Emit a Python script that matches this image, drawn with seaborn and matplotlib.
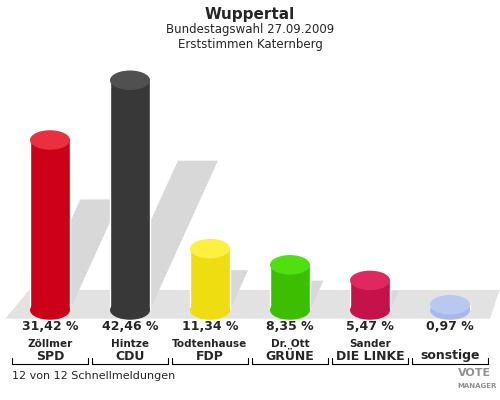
import matplotlib
matplotlib.use("Agg")
import matplotlib.pyplot as plt
import seaborn as sns
import pandas as pd
from matplotlib.patches import Ellipse, Polygon

parties = ["SPD", "CDU", "FDP", "GRÜNE", "DIE LINKE", "sonstige"]
names = ["Zöllmer", "Hintze", "Todtenhause", "Dr. Ott", "Sander", ""]
values = [31.42, 42.46, 11.34, 8.35, 5.47, 0.97]
labels = ["31,42 %", "42,46 %", "11,34 %", "8,35 %", "5,47 %", "0,97 %"]
colors = ["#cc0018", "#383838", "#eedd10", "#3cbf00", "#c4124a", "#a8b8e8"]
tops = ["#e83040", "#505050", "#fff040", "#50e010", "#e02860", "#b8c8f0"]

sns.set_style("white")
fig = plt.figure(figsize=(5, 4), dpi=100)
fig.patch.set_facecolor("white")

ax = fig.add_axes([0.02, 0.225, 0.96, 0.625])
ax.set_facecolor("none")
df = pd.DataFrame({"party": parties, "value": values})
sns.barplot(data=df, x="party", y="value", hue="party", palette=colors, width=0.5,
            legend=False, ax=ax, saturation=1, zorder=3)
ax.set_ylim(0, 46.2)
ax.set_xlim(-0.5, 5.5)

floor = Polygon([[-0.01, -0.035], [1.0, -0.035], [1.02, 0.08], [0.04, 0.08]], closed=True,
                transform=ax.transAxes, facecolor="#e2e2e2", edgecolor="none", zorder=0, clip_on=False)
ax.add_patch(floor)

eh = 3.6
for i, (v, c, t) in enumerate(zip(values, colors, tops)):
    ax.add_patch(Ellipse((i, 0), 0.5, eh, facecolor=c, edgecolor="none", zorder=3, clip_on=False))
    ax.add_patch(Ellipse((i, v), 0.5, eh, facecolor=t, edgecolor="none", zorder=4, clip_on=False))
    ax.add_patch(Polygon([[i - 0.25, 0], [i + 0.25, 0], [i + 0.25 + v * 0.02, v * 0.65], [i - 0.25 + v * 0.02, v * 0.65]],
                         closed=True, facecolor="#d8d8d8", edgecolor="none", zorder=1))
ax.axis("off")

fig.text(0.5, 0.965, "Wuppertal", ha="center", va="center", fontsize=11, fontweight="bold")
fig.text(0.5, 0.925, "Bundestagswahl 27.09.2009", ha="center", va="center", fontsize=8.5)
fig.text(0.5, 0.888, "Erststimmen Katernberg", ha="center", va="center", fontsize=8.5)

for i in range(6):
    xf = 0.02 + 0.96 * (i + 0.5) / 6
    fig.text(xf, 1 - 327 / 400, labels[i], ha="center", va="center", fontsize=9, fontweight="bold")
    fig.text(xf, 1 - 344 / 400, names[i], ha="center", va="center", fontsize=7.5, fontweight="bold")
    fig.text(xf, 1 - 356 / 400, parties[i], ha="center", va="center", fontsize=9, fontweight="bold")
    x0 = 0.02 + 0.96 * i / 6 + 0.004
    x1 = 0.02 + 0.96 * (i + 1) / 6 - 0.004
    fig.lines.append(plt.Line2D([x0, x1], [1 - 364 / 400] * 2, color="black", lw=0.8, transform=fig.transFigure))
    for xx in (x0, x1):
        fig.lines.append(plt.Line2D([xx, xx], [1 - 364 / 400, 1 - 358 / 400], color="black", lw=0.8, transform=fig.transFigure))

fig.text(0.025, 1 - 376 / 400, "12 von 12 Schnellmeldungen", ha="left", va="center", fontsize=8)
fig.text(0.915, 1 - 373 / 400, "VOTE", ha="left", va="center", fontsize=8, fontweight="bold", color="#909090")
fig.text(0.915, 1 - 386 / 400, "MANAGER", ha="left", va="center", fontsize=5, fontweight="bold", color="#909090")
fig.savefig("out.png", dpi=100)
